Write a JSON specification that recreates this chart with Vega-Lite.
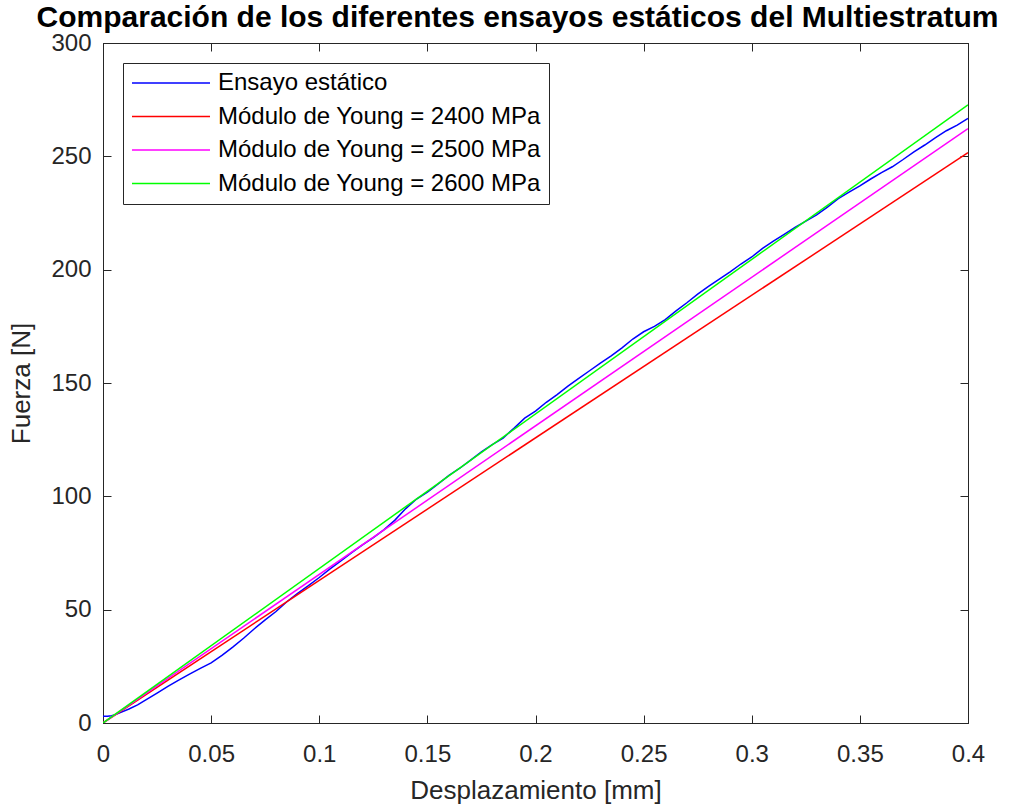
{
  "$schema": "https://vega.github.io/schema/vega-lite/v6.json",
  "autosize": {"type": "none"},
  "padding": {"left": 103, "top": 43, "right": 42, "bottom": 86},
  "width": 865,
  "height": 680,
  "background": "white",
  "title": {
    "text": "Comparación de los diferentes ensayos estáticos del Multiestratum",
    "font": "Liberation Sans",
    "fontSize": 30,
    "fontWeight": "bold",
    "color": "#000000",
    "anchor": "middle",
    "dx": -18,
    "offset": -2
  },
  "datasets": {
    "curvas": [
      {"x": 0, "y": 3.0, "serie": "Ensayo estático"},
      {"x": 0.002, "y": 3.0, "serie": "Ensayo estático"},
      {"x": 0.004, "y": 3.2, "serie": "Ensayo estático"},
      {"x": 0.006, "y": 3.8, "serie": "Ensayo estático"},
      {"x": 0.008, "y": 4.6, "serie": "Ensayo estático"},
      {"x": 0.012, "y": 6.2, "serie": "Ensayo estático"},
      {"x": 0.016, "y": 8.0, "serie": "Ensayo estático"},
      {"x": 0.020, "y": 10.3, "serie": "Ensayo estático"},
      {"x": 0.025, "y": 13.2, "serie": "Ensayo estático"},
      {"x": 0.030, "y": 16.2, "serie": "Ensayo estático"},
      {"x": 0.035, "y": 18.9, "serie": "Ensayo estático"},
      {"x": 0.040, "y": 21.6, "serie": "Ensayo estático"},
      {"x": 0.045, "y": 24.1, "serie": "Ensayo estático"},
      {"x": 0.050, "y": 26.5, "serie": "Ensayo estático"},
      {"x": 0.055, "y": 29.8, "serie": "Ensayo estático"},
      {"x": 0.060, "y": 33.5, "serie": "Ensayo estático"},
      {"x": 0.065, "y": 37.4, "serie": "Ensayo estático"},
      {"x": 0.070, "y": 41.6, "serie": "Ensayo estático"},
      {"x": 0.075, "y": 45.5, "serie": "Ensayo estático"},
      {"x": 0.080, "y": 49.2, "serie": "Ensayo estático"},
      {"x": 0.085, "y": 53.5, "serie": "Ensayo estático"},
      {"x": 0.090, "y": 57.2, "serie": "Ensayo estático"},
      {"x": 0.095, "y": 60.6, "serie": "Ensayo estático"},
      {"x": 0.100, "y": 64.2, "serie": "Ensayo estático"},
      {"x": 0.105, "y": 68.0, "serie": "Ensayo estático"},
      {"x": 0.110, "y": 71.5, "serie": "Ensayo estático"},
      {"x": 0.115, "y": 75.2, "serie": "Ensayo estático"},
      {"x": 0.120, "y": 78.6, "serie": "Ensayo estático"},
      {"x": 0.125, "y": 81.8, "serie": "Ensayo estático"},
      {"x": 0.130, "y": 85.3, "serie": "Ensayo estático"},
      {"x": 0.135, "y": 89.5, "serie": "Ensayo estático"},
      {"x": 0.140, "y": 94.6, "serie": "Ensayo estático"},
      {"x": 0.145, "y": 98.8, "serie": "Ensayo estático"},
      {"x": 0.150, "y": 101.8, "serie": "Ensayo estático"},
      {"x": 0.155, "y": 105.5, "serie": "Ensayo estático"},
      {"x": 0.160, "y": 109.2, "serie": "Ensayo estático"},
      {"x": 0.165, "y": 112.4, "serie": "Ensayo estático"},
      {"x": 0.170, "y": 116.0, "serie": "Ensayo estático"},
      {"x": 0.175, "y": 119.6, "serie": "Ensayo estático"},
      {"x": 0.180, "y": 122.8, "serie": "Ensayo estático"},
      {"x": 0.185, "y": 125.7, "serie": "Ensayo estático"},
      {"x": 0.190, "y": 130.0, "serie": "Ensayo estático"},
      {"x": 0.195, "y": 134.5, "serie": "Ensayo estático"},
      {"x": 0.200, "y": 137.6, "serie": "Ensayo estático"},
      {"x": 0.205, "y": 141.5, "serie": "Ensayo estático"},
      {"x": 0.210, "y": 144.9, "serie": "Ensayo estático"},
      {"x": 0.215, "y": 148.6, "serie": "Ensayo estático"},
      {"x": 0.220, "y": 152.0, "serie": "Ensayo estático"},
      {"x": 0.225, "y": 155.4, "serie": "Ensayo estático"},
      {"x": 0.230, "y": 158.8, "serie": "Ensayo estático"},
      {"x": 0.235, "y": 162.0, "serie": "Ensayo estático"},
      {"x": 0.240, "y": 165.5, "serie": "Ensayo estático"},
      {"x": 0.245, "y": 169.4, "serie": "Ensayo estático"},
      {"x": 0.250, "y": 172.6, "serie": "Ensayo estático"},
      {"x": 0.255, "y": 175.0, "serie": "Ensayo estático"},
      {"x": 0.260, "y": 178.0, "serie": "Ensayo estático"},
      {"x": 0.265, "y": 181.8, "serie": "Ensayo estático"},
      {"x": 0.270, "y": 185.4, "serie": "Ensayo estático"},
      {"x": 0.275, "y": 189.2, "serie": "Ensayo estático"},
      {"x": 0.280, "y": 192.6, "serie": "Ensayo estático"},
      {"x": 0.285, "y": 195.8, "serie": "Ensayo estático"},
      {"x": 0.290, "y": 199.0, "serie": "Ensayo estático"},
      {"x": 0.295, "y": 202.5, "serie": "Ensayo estático"},
      {"x": 0.300, "y": 205.6, "serie": "Ensayo estático"},
      {"x": 0.305, "y": 209.4, "serie": "Ensayo estático"},
      {"x": 0.310, "y": 212.6, "serie": "Ensayo estático"},
      {"x": 0.315, "y": 215.6, "serie": "Ensayo estático"},
      {"x": 0.320, "y": 218.6, "serie": "Ensayo estático"},
      {"x": 0.325, "y": 221.4, "serie": "Ensayo estático"},
      {"x": 0.330, "y": 224.2, "serie": "Ensayo estático"},
      {"x": 0.335, "y": 227.6, "serie": "Ensayo estático"},
      {"x": 0.340, "y": 231.3, "serie": "Ensayo estático"},
      {"x": 0.345, "y": 234.2, "serie": "Ensayo estático"},
      {"x": 0.350, "y": 237.0, "serie": "Ensayo estático"},
      {"x": 0.355, "y": 240.0, "serie": "Ensayo estático"},
      {"x": 0.360, "y": 242.8, "serie": "Ensayo estático"},
      {"x": 0.365, "y": 245.4, "serie": "Ensayo estático"},
      {"x": 0.370, "y": 248.6, "serie": "Ensayo estático"},
      {"x": 0.375, "y": 252.0, "serie": "Ensayo estático"},
      {"x": 0.380, "y": 255.0, "serie": "Ensayo estático"},
      {"x": 0.385, "y": 258.2, "serie": "Ensayo estático"},
      {"x": 0.390, "y": 261.3, "serie": "Ensayo estático"},
      {"x": 0.395, "y": 263.8, "serie": "Ensayo estático"},
      {"x": 0.400, "y": 266.7, "serie": "Ensayo estático"},
      {"x": 0, "y": 0, "serie": "Módulo de Young = 2400 MPa"},
      {"x": 0.4, "y": 251.6, "serie": "Módulo de Young = 2400 MPa"},
      {"x": 0, "y": 0, "serie": "Módulo de Young = 2500 MPa"},
      {"x": 0.4, "y": 262.2, "serie": "Módulo de Young = 2500 MPa"},
      {"x": 0, "y": 0, "serie": "Módulo de Young = 2600 MPa"},
      {"x": 0.4, "y": 272.7, "serie": "Módulo de Young = 2600 MPa"}
    ]
  },
  "data": {"name": "curvas"},
  "config": {
    "view": {"stroke": "#262626", "strokeWidth": 1},
    "axis": {
      "grid": false,
      "domainColor": "#262626",
      "tickColor": "#262626",
      "labelColor": "#262626",
      "titleColor": "#262626",
      "labelFont": "Liberation Sans",
      "titleFont": "Liberation Sans",
      "labelFontSize": 24,
      "titleFontSize": 26,
      "titleFontWeight": "normal",
      "tickSize": -8,
      "labelFlush": false,
      "labelOverlap": false
    },
    "legend": {
      "orient": "none",
      "legendX": 20,
      "legendY": 20,
      "strokeColor": "#262626",
      "fillColor": "white",
      "padding": 8,
      "symbolType": "stroke",
      "symbolSize": 6084,
      "symbolStrokeWidth": 1.5,
      "labelFont": "Liberation Sans",
      "labelFontSize": 24,
      "labelColor": "#000000",
      "labelLimit": 500,
      "clipHeight": 24,
      "rowPadding": 9.5,
      "labelOffset": 7
    }
  },
  "layer": [
    {
      "mark": {"type": "line", "strokeWidth": 1.5, "clip": true},
      "encoding": {
        "x": {
          "field": "x", "type": "quantitative",
          "scale": {"domain": [0, 0.4], "nice": false, "zero": false},
          "axis": {"values": [0, 0.05, 0.1, 0.15, 0.2, 0.25, 0.3, 0.35, 0.4], "format": "~g", "title": "Desplazamiento [mm]", "labelPadding": 27, "titlePadding": 11}
        },
        "y": {
          "field": "y", "type": "quantitative",
          "scale": {"domain": [0, 300], "nice": false},
          "axis": {"values": [0, 50, 100, 150, 200, 250, 300], "title": "Fuerza [N]", "labelPadding": 20, "titlePadding": 16}
        },
        "color": {
          "field": "serie", "type": "nominal",
          "scale": {
            "domain": ["Ensayo estático", "Módulo de Young = 2400 MPa", "Módulo de Young = 2500 MPa", "Módulo de Young = 2600 MPa"],
            "range": ["#0000ff", "#ff0000", "#ff00ff", "#00ff00"]
          },
          "legend": {"title": null}
        }
      }
    },
    {
      "mark": {"type": "point", "opacity": 0},
      "encoding": {
        "x": {
          "field": "x", "type": "quantitative",
          "axis": {"orient": "top", "values": [0, 0.05, 0.1, 0.15, 0.2, 0.25, 0.3, 0.35, 0.4], "labels": false, "title": null}
        },
        "y": {
          "field": "y", "type": "quantitative",
          "axis": {"orient": "right", "values": [0, 50, 100, 150, 200, 250, 300], "labels": false, "title": null}
        }
      }
    }
  ],
  "resolve": {"axis": {"x": "independent", "y": "independent"}}
}
